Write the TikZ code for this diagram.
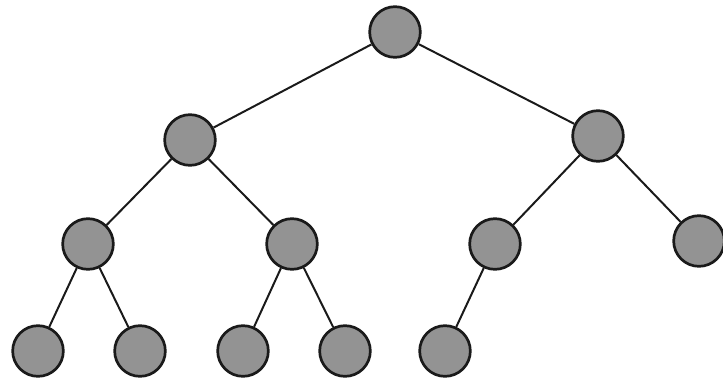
\documentclass[tikz,border=0pt]{standalone}
\usepackage{tikz}
\definecolor{cink}{HTML}{1A1A1A}
\definecolor{cgray}{HTML}{939393}

\begin{document}
\begin{tikzpicture}[x=0.03cm, y=-0.03cm,
  knot/.style={circle, draw=cink, line width=2.3pt, fill=cgray,
    minimum size=1.52cm, inner sep=0pt},
  edge/.style={cink, line width=1.7pt}]
\useasboundingbox (0,0) rectangle (723,388);
%% ------------------------------------------------------------------ nodes
\node[knot] (r)   at (395, 32) {};
\node[knot] (a)   at (190,140) {};
\node[knot] (b)   at (598,136) {};
\node[knot] (aa)  at ( 88,244) {};
\node[knot] (ab)  at (292,244) {};
\node[knot] (ba)  at (495,244) {};
\node[knot] (bb)  at (699,241) {};
\node[knot] (aaa) at ( 38,351) {};
\node[knot] (aab) at (140,351) {};
\node[knot] (aba) at (243,351) {};
\node[knot] (abb) at (345,351) {};
\node[knot] (baa) at (445,351) {};
%% ------------------------------------------------------------------ edges
\foreach \p/\c in {r/a,r/b,a/aa,a/ab,b/ba,b/bb,aa/aaa,aa/aab,ab/aba,ab/abb,ba/baa}
  \draw[edge] (\p) -- (\c);
\end{tikzpicture}
\end{document}
